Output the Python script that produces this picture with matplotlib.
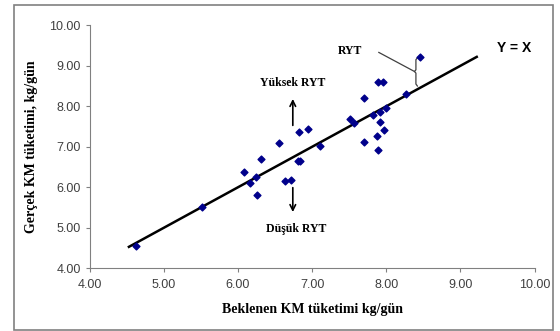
import numpy as np
import matplotlib.pyplot as plt
from matplotlib.patches import Rectangle

# values
beklenen = [4.62, 5.52, 6.08, 6.16, 6.25, 6.26, 6.31, 6.55, 6.63, 6.72,
            6.81, 6.84, 6.82, 6.95, 7.11, 7.51, 7.57, 7.70, 7.70, 7.82,
            7.89, 7.96, 7.92, 7.99, 7.91, 7.87, 7.97, 7.89, 8.27, 8.45]
gercek = [4.55, 5.51, 6.37, 6.11, 6.25, 5.80, 6.70, 7.10, 6.16, 6.18,
          6.64, 6.65, 7.37, 7.44, 7.01, 7.69, 7.58, 8.20, 7.13, 7.79,
          8.59, 8.59, 7.86, 7.96, 7.60, 7.27, 7.42, 6.91, 8.30, 9.21]
line_x = [4.53, 9.22]
ticks = [4, 5, 6, 7, 8, 9, 10]

plt.rcParams['font.family'] = 'Liberation Sans'
fig = plt.figure(figsize=(5.6, 3.31), dpi=100)
ax = fig.add_axes([0.160, 0.1894, 0.7946, 0.7342])

# figure frame
fig.patches.append(Rectangle((13.6 / 560, 1 / 331), (553 - 13.6) / 560, 325 / 331,
                             transform=fig.transFigure, fill=False,
                             edgecolor='#808080', linewidth=1.2))

ax.plot(line_x, line_x, color='black', linewidth=1.8, zorder=2)
ax.scatter(beklenen, gercek, marker='D', s=12, color='#00008B', zorder=3)

ax.set_xlim(4, 10)
ax.set_ylim(4, 10)
ax.set_xticks(ticks)
ax.set_yticks(ticks)
ax.set_xticklabels([f'{t:.2f}' for t in ticks])
ax.set_yticklabels([f'{t:.2f}' for t in ticks])
ax.tick_params(labelsize=9, colors='#404040', length=3, width=0.8, color='#808080')
ax.tick_params(axis='x', pad=5)
for s in ['top', 'right']:
    ax.spines[s].set_visible(False)
for s in ['left', 'bottom']:
    ax.spines[s].set_color('#808080')

ax.set_xlabel('Beklenen KM tüketimi kg/gün', fontfamily='Liberation Serif',
              fontweight='bold', fontsize=10, labelpad=8)
ax.set_ylabel('Gerçek KM tüketimi, kg/gün', fontfamily='Liberation Serif',
              fontweight='bold', fontsize=10, labelpad=8)

# annotations
serif = dict(fontfamily='Liberation Serif', fontweight='bold', fontsize=8.5,
             ha='center', va='center')
ax.text(6.74, 8.57, 'Yüksek RYT', **serif)
ax.text(6.78, 4.96, 'Düşük RYT', **serif)
ax.text(7.51, 9.37, 'RYT', **serif)
ax.text(9.73, 9.45, 'Y = X', fontsize=10, fontweight='bold', ha='center', va='center')

ax.annotate('', xy=(6.74, 8.25), xytext=(6.74, 7.46),
            arrowprops=dict(arrowstyle='->', color='black', lw=1.2))
ax.annotate('', xy=(6.74, 5.32), xytext=(6.74, 6.06),
            arrowprops=dict(arrowstyle='->', color='black', lw=1.2))

# brace marking the residual
ax.plot([8.42, 8.40, 8.40, 8.38, 8.40, 8.40, 8.42],
        [9.20, 9.15, 8.90, 8.86, 8.82, 8.55, 8.50], color='#404040', lw=0.9)
ax.plot([7.90, 8.38], [9.33, 8.86], color='#404040', lw=0.9)

fig.savefig('out.png', dpi=100)
